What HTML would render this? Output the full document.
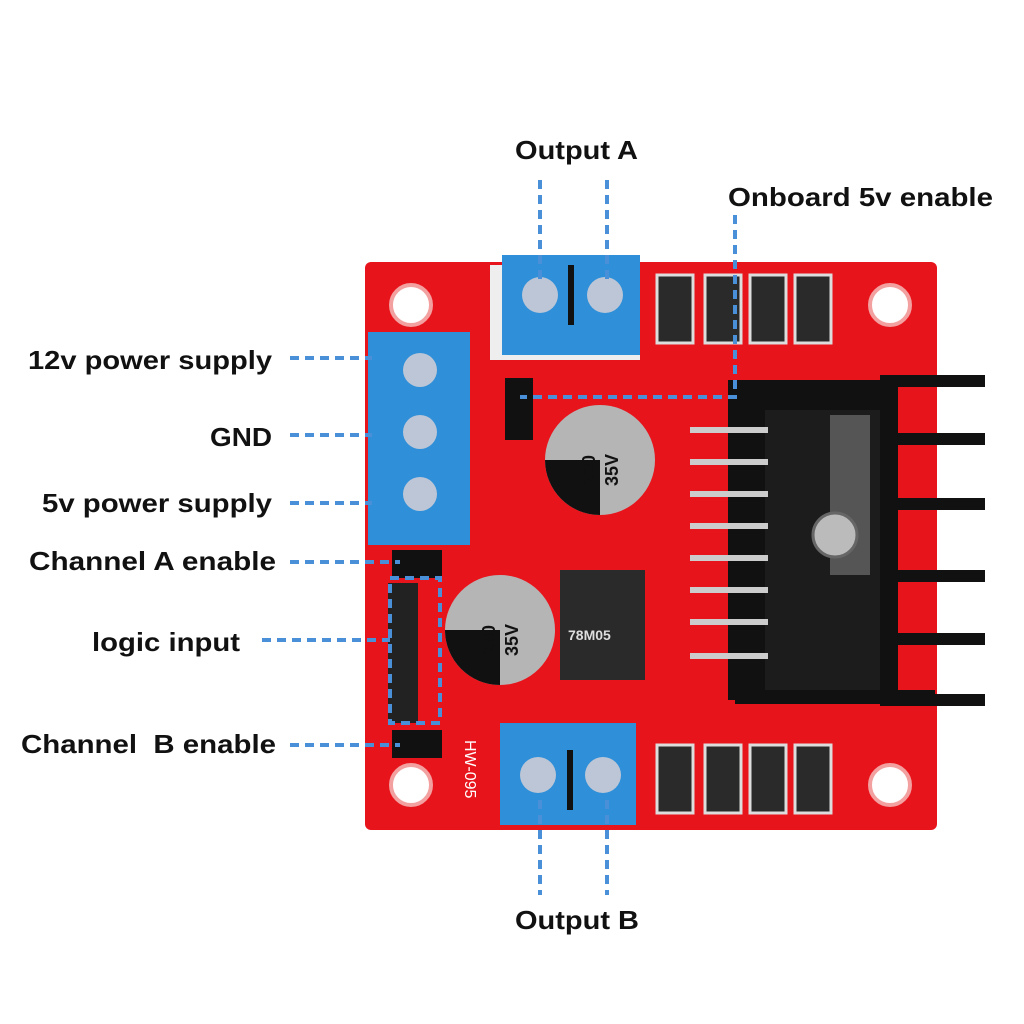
<!DOCTYPE html>
<html><head><meta charset="utf-8"><style>
html,body{margin:0;padding:0;background:#fff;}
svg{display:block}
text{font-family:"Liberation Sans",sans-serif;font-weight:bold;font-size:26px;fill:#111;}
</style></head><body>
<svg width="1024" height="1024" viewBox="0 0 1024 1024" xmlns="http://www.w3.org/2000/svg">
<rect width="1024" height="1024" fill="#fff"/>
<!-- board -->
<rect x="365" y="262" width="572" height="568" rx="6" fill="#e8141c"/>
<!-- mounting holes -->
<g fill="#fff" stroke="#f3a0a0" stroke-width="4">
<circle cx="411" cy="305" r="20"/><circle cx="890" cy="305" r="20"/>
<circle cx="411" cy="785" r="20"/><circle cx="890" cy="785" r="20"/>
</g>
<!-- heatsink -->
<rect x="728" y="380" width="170" height="320" fill="#111"/>
<g fill="#111">
<rect x="880" y="375" width="105" height="12"/><rect x="880" y="433" width="105" height="12"/>
<rect x="880" y="498" width="105" height="12"/><rect x="880" y="570" width="105" height="12"/>
<rect x="880" y="633" width="105" height="12"/><rect x="880" y="694" width="105" height="12"/>
<rect x="735" y="690" width="200" height="14"/>
</g>
<rect x="765" y="410" width="115" height="280" fill="#1c1c1c"/>
<rect x="830" y="415" width="40" height="160" fill="#555"/>
<circle cx="835" cy="535" r="22" fill="#bbb" stroke="#666" stroke-width="3"/>
<!-- chip pins -->
<g stroke="#ccc" stroke-width="6">
<line x1="690" y1="430" x2="768" y2="430"/><line x1="690" y1="462" x2="768" y2="462"/>
<line x1="690" y1="494" x2="768" y2="494"/><line x1="690" y1="526" x2="768" y2="526"/>
<line x1="690" y1="558" x2="768" y2="558"/><line x1="690" y1="590" x2="768" y2="590"/>
<line x1="690" y1="622" x2="768" y2="622"/><line x1="690" y1="656" x2="768" y2="656"/>
</g>
<!-- diodes -->
<g fill="#2a2a2a" stroke="#ddd" stroke-width="3">
<rect x="657" y="275" width="36" height="68"/><rect x="705" y="275" width="36" height="68"/>
<rect x="750" y="275" width="36" height="68"/><rect x="795" y="275" width="36" height="68"/>
<rect x="657" y="745" width="36" height="68"/><rect x="705" y="745" width="36" height="68"/>
<rect x="750" y="745" width="36" height="68"/><rect x="795" y="745" width="36" height="68"/>
</g>
<!-- terminals -->
<rect x="490" y="265" width="150" height="95" fill="#eee"/>
<rect x="502" y="255" width="138" height="100" fill="#2f8fd8"/>
<rect x="568" y="265" width="6" height="60" fill="#111"/>
<circle cx="540" cy="295" r="18" fill="#bcc6d6"/><circle cx="605" cy="295" r="18" fill="#bcc6d6"/>
<rect x="368" y="332" width="102" height="213" fill="#2f8fd8"/>
<circle cx="420" cy="370" r="17" fill="#bcc6d6"/><circle cx="420" cy="432" r="17" fill="#bcc6d6"/><circle cx="420" cy="494" r="17" fill="#bcc6d6"/>
<rect x="500" y="723" width="136" height="102" fill="#2f8fd8"/>
<rect x="567" y="750" width="6" height="60" fill="#111"/>
<circle cx="538" cy="775" r="18" fill="#bcc6d6"/><circle cx="603" cy="775" r="18" fill="#bcc6d6"/>
<!-- caps -->
<circle cx="600" cy="460" r="55" fill="#b5b5b5"/>
<path d="M545 460 A55 55 0 0 0 600 515 L600 460 Z" fill="#111"/>
<text transform="translate(595 470) rotate(-90)" style="font-size:18px" text-anchor="middle">220</text>
<text transform="translate(618 470) rotate(-90)" style="font-size:18px" text-anchor="middle">35V</text>
<circle cx="500" cy="630" r="55" fill="#b5b5b5"/>
<path d="M445 630 A55 55 0 0 0 500 685 L500 630 Z" fill="#111"/>
<text transform="translate(495 640) rotate(-90)" style="font-size:18px" text-anchor="middle">220</text>
<text transform="translate(518 640) rotate(-90)" style="font-size:18px" text-anchor="middle">35V</text>
<!-- regulator -->
<rect x="560" y="570" width="85" height="110" fill="#2a2a2a"/>
<text x="568" y="640" style="font-size:14px;fill:#ddd">78M05</text>
<!-- jumpers -->
<rect x="505" y="378" width="28" height="62" fill="#111"/>
<rect x="392" y="550" width="50" height="28" fill="#111"/>
<rect x="392" y="730" width="50" height="28" fill="#111"/>
<rect x="388" y="583" width="30" height="140" fill="#222"/>
<text x="465" y="740" transform="rotate(90 465 740)" style="font-size:16px;fill:#fff;font-weight:normal">HW-095</text>
<!-- dashed lines -->
<g stroke="#4a90d9" stroke-width="4" stroke-dasharray="9,6" fill="none">
<line x1="540" y1="180" x2="540" y2="285"/><line x1="607" y1="180" x2="607" y2="285"/>
<polyline points="735,215 735,397 520,397"/>
<line x1="290" y1="358" x2="372" y2="358"/>
<line x1="290" y1="435" x2="372" y2="435"/>
<line x1="290" y1="503" x2="372" y2="503"/>
<line x1="290" y1="562" x2="400" y2="562"/>
<line x1="262" y1="640" x2="390" y2="640"/>
<line x1="290" y1="745" x2="400" y2="745"/>
<rect x="390" y="578" width="50" height="145"/>
<line x1="540" y1="800" x2="540" y2="895"/><line x1="607" y1="800" x2="607" y2="895"/>
</g>
<!-- labels -->
<text x="515" y="159" textLength="123" lengthAdjust="spacingAndGlyphs">Output A</text>
<text x="728" y="206" textLength="265" lengthAdjust="spacingAndGlyphs">Onboard 5v enable</text>
<text x="28" y="369" textLength="244" lengthAdjust="spacingAndGlyphs">12v power supply</text>
<text x="210" y="446" textLength="62" lengthAdjust="spacingAndGlyphs">GND</text>
<text x="42" y="512" textLength="230" lengthAdjust="spacingAndGlyphs">5v power supply</text>
<text x="29" y="570" textLength="247" lengthAdjust="spacingAndGlyphs">Channel A enable</text>
<text x="92" y="651" textLength="148" lengthAdjust="spacingAndGlyphs">logic input</text>
<text x="21" y="753" textLength="255" lengthAdjust="spacingAndGlyphs">Channel&#160; B enable</text>
<text x="515" y="929" textLength="124" lengthAdjust="spacingAndGlyphs">Output B</text>
</svg>
</body></html>
